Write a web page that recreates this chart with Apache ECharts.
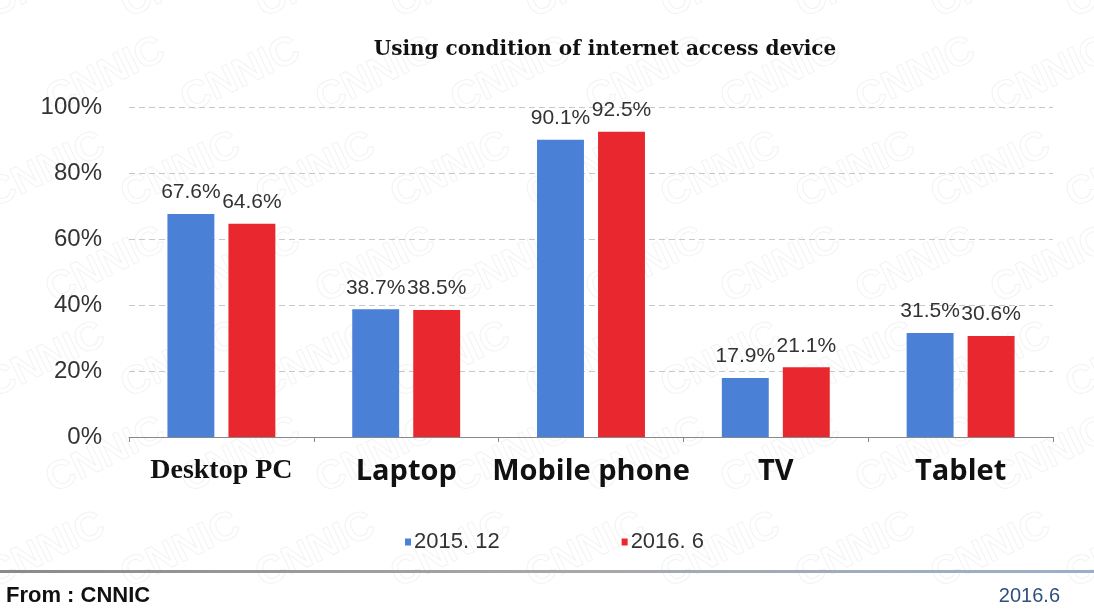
<!DOCTYPE html>
<html>
<head>
<meta charset="utf-8">
<script src="https://cdn.jsdelivr.net/npm/echarts@6/dist/echarts.min.js"></script>
<style>html,body{margin:0;padding:0;background:#fff}#c{width:1094px;height:614px}</style>
</head>
<body>
<div id="c"></div>
<script>
const categories = ['Desktop PC', 'Laptop', 'Mobile phone', 'TV', 'Tablet'];
const seriesNames = ['2015. 12', '2016. 6'];
const values2015 = [67.6, 38.7, 90.1, 17.9, 31.5];
const values2016 = [64.6, 38.5, 92.5, 21.1, 30.6];
const yTicks = [0, 20, 40, 60, 80, 100];
const titleText = 'Using condition of internet access device';
const sourceText = 'From : CNNIC';
const dateText = '2016.6';
const watermarkText = 'CNNIC';

const chart = echarts.init(document.getElementById('c'), null, {renderer: 'canvas'});
const labelCommon = {
  show: true, position: 'top', distance: 11,
  fontFamily: 'Liberation Sans, Arial, sans-serif', fontSize: 21, color: '#333',
  formatter: p => p.value.toFixed(1) + '%'
};

// faint background watermark
const wm = [];
for (let r = 0; r < 7; r++) {
  for (let c = 0; c < 9; c++) {
    wm.push({
      type: 'text', x: c * 135 + (r % 2) * 60 - 20, y: r * 95 - 10, rotation: Math.PI / 7, z: -10,
      style: {text: watermarkText, fontFamily: 'Liberation Sans, Arial, sans-serif', fontWeight: 'bold', fontSize: 40, fill: 'rgba(0,0,0,0)', stroke: '#f3f3f3', lineWidth: 1}
    });
  }
}

chart.setOption({
  backgroundColor: '#fff',
  animation: false,
  title: {
    text: titleText, left: 600, top: 35, textAlign: 'center',
    textStyle: {fontFamily: 'DejaVu Serif, Liberation Serif, serif', fontWeight: 'bold', fontSize: 20, color: '#111'}
  },
  legend: {
    data: seriesNames, left: 400, top: 526, itemWidth: 6, itemHeight: 7, itemGap: 122,
    icon: 'rect',
    textStyle: {fontFamily: 'Liberation Sans, Arial, sans-serif', fontSize: 22, color: '#333', padding: [0, 0, 0, -2]}
  },
  grid: {left: 129, right: 41, top: 107, bottom: 177, containLabel: false},
  xAxis: {
    type: 'category', data: categories,
    axisLine: {lineStyle: {color: '#888', width: 1}},
    axisTick: {show: true, length: 5, lineStyle: {color: '#888'}},
    axisLabel: {
      margin: 20, interval: 0,
      formatter: (v, i) => (i === 0 ? '{s|' + v + '}' : '{b|' + v + '}'),
      rich: {
        s: {fontFamily: 'Liberation Serif, Times New Roman, serif', fontWeight: 'bold', fontSize: 28, color: '#111'},
        b: {fontFamily: 'Open Sans, Liberation Sans, sans-serif', fontWeight: 'bold', fontSize: 29, color: '#111'}
      }
    }
  },
  yAxis: {
    type: 'value', min: 0, max: 100, interval: 20,
    axisLine: {show: false}, axisTick: {show: false},
    axisLabel: {
      margin: 27, fontFamily: 'Liberation Sans, Arial, sans-serif', fontSize: 24, color: '#333',
      formatter: v => (yTicks.indexOf(v) >= 0 ? v + '%' : '')
    },
    splitLine: {show: true, lineStyle: {color: '#c8c8c8', type: [6, 4], width: 1}}
  },
  series: [
    {name: seriesNames[0], type: 'bar', data: values2015, barGap: '30%', barCategoryGap: '41.6%',
     itemStyle: {color: '#4a80d6'}, label: labelCommon},
    {name: seriesNames[1], type: 'bar', data: values2016,
     itemStyle: {color: '#e8282e'}, label: labelCommon}
  ],
  graphic: wm.concat([
    {type: 'rect', shape: {x: 0, y: 570, width: 1094, height: 3},
     style: {fill: new echarts.graphic.LinearGradient(0, 0, 1, 0, [{offset: 0, color: '#8a8a8a'}, {offset: 0.5, color: '#a8a8a8'}, {offset: 1, color: '#9ab0c8'}])}},
    {type: 'text', left: 6, top: 585,
     style: {text: sourceText, fontFamily: 'Liberation Sans, Arial, sans-serif', fontWeight: 'bold', fontSize: 22, fill: '#111'}},
    {type: 'text', right: 34, top: 586,
     style: {text: dateText, fontFamily: 'Liberation Sans, Arial, sans-serif', fontSize: 20, fill: '#2e4f80'}}
  ])
});
</script>
</body>
</html>
